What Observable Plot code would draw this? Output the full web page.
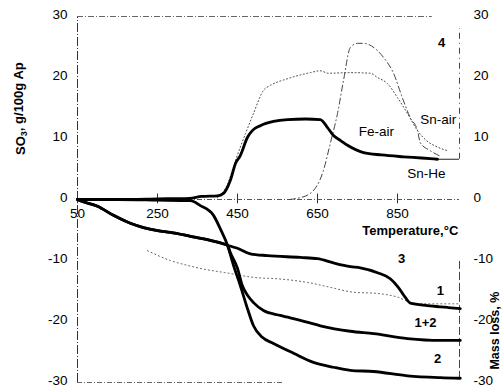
<!DOCTYPE html>
<html><head><meta charset="utf-8">
<script src="https://cdn.jsdelivr.net/npm/d3@7"></script>
<script src="https://cdn.jsdelivr.net/npm/@observablehq/plot@0.6"></script>
<style>body{margin:0;background:#fff}#chart svg{display:block}</style>
</head><body><div id="chart"></div>
<script>
// ---- data (temperature °C, value) ----
const xTicks = [50, 250, 450, 650, 850];
const yTicksLeft = [30, 20, 10, 0, -10, -20, -30];
const yTicksRight = [30, 20, 10, 0, -10, -20, -30];

// SO3 release, g/100g Ap
const snHeT = [50, 150, 250, 330, 360, 400, 415, 432, 445, 457, 475, 487, 507, 540, 575, 620, 657, 675, 690, 707, 725, 765, 810, 865, 910, 950];
const snHeV = [0, 0, 0.1, 0.2, 0.5, 0.6, 1.0, 3.1, 5.9, 7.2, 10.2, 11.3, 12.1, 12.8, 13.1, 13.2, 13.1, 11.8, 10.5, 9.7, 8.9, 7.7, 7.3, 7.0, 6.8, 6.6];
const feAirT = [400, 425, 445, 470, 490, 515, 532, 575, 632, 657, 677, 730, 782, 800, 825, 850, 875, 900, 920, 950, 975];
const feAirV = [0.3, 2.5, 6.4, 10.8, 14.1, 17.9, 18.7, 19.8, 20.8, 21.1, 20.7, 20.8, 20.7, 20.0, 19.0, 16.7, 14.1, 11.3, 9.8, 8.6, 8.0];
const snAirT = [580, 600, 632, 665, 682, 700, 715, 732, 750, 765, 800, 815, 840, 862, 882, 900, 907, 932, 960];
const snAirV = [0, 0.2, 1, 4.8, 9.2, 14.1, 19.5, 24.9, 25.6, 25.6, 24.4, 23.3, 20.7, 16.7, 13.4, 11.3, 9.3, 8.0, 7.0];

// Mass loss, %
const c3T = [50, 57, 100, 140, 182, 215, 250, 282, 330, 382, 400, 425, 450, 482, 525, 607, 650, 690, 732, 757, 800, 832, 852, 870, 882, 925, 975, 1007];
const c3V = [0, -0.2, -1.1, -2.6, -3.9, -4.6, -5.1, -5.4, -6.0, -6.7, -7.0, -7.5, -8.0, -8.9, -9.2, -9.5, -9.7, -10.4, -11.0, -11.2, -12.0, -13.0, -14.4, -16.1, -17.0, -17.4, -17.7, -17.9];
const c12T = [50, 57, 100, 140, 182, 215, 250, 282, 330, 382, 400, 425, 432, 450, 462, 475, 490, 515, 557, 607, 657, 732, 790, 875, 957, 1007];
const c12V = [0, -0.2, -1.1, -2.6, -3.9, -4.6, -5.1, -5.4, -6.0, -6.7, -7.0, -7.5, -8.7, -11.3, -14.1, -15.7, -16.9, -18.2, -19.0, -19.8, -20.7, -21.6, -22.0, -22.8, -23.1, -23.1];
const c2T = [50, 150, 250, 332, 357, 390, 407, 425, 440, 457, 475, 490, 512, 540, 590, 640, 690, 732, 790, 875, 957, 1007];
const c2V = [0, 0, -0.1, -0.2, -1.0, -2.6, -4.8, -7.5, -10.8, -14.1, -17.9, -20.7, -22.6, -23.6, -25.2, -26.7, -27.5, -28.0, -28.2, -28.9, -29.2, -29.3];
const dotT = [225, 282, 325, 357, 420, 495, 550, 625, 682, 740, 800, 850, 890, 940, 1005];
const dotV = [-8.4, -10.0, -10.8, -11.3, -12.0, -12.8, -13.0, -13.6, -14.4, -15.2, -15.4, -16.0, -17.0, -17.1, -17.1];

// annotations
const curveLabels = [
  {t: "Fe-air", x: 797, y: 11.1, bold: false},
  {t: "Sn-air", x: 952, y: 13.1, bold: false},
  {t: "Sn-He", x: 922, y: 4.3, bold: false},
  {t: "4", x: 960, y: 25.7, bold: true},
  {t: "3", x: 860, y: -9.8, bold: true},
  {t: "1", x: 957, y: -14.9, bold: true},
  {t: "1+2", x: 920, y: -20.2, bold: true},
  {t: "2", x: 950, y: -26.1, bold: true}
];

const pts = (T, V) => d3.zip(T, V).map(([x, y]) => ({x, y}));
const thick = {x: "x", y: "y", stroke: "#000", strokeWidth: 2.8, curve: "monotone-x", strokeLinejoin: "round"};

const chart = Plot.plot({
  width: 503, height: 388,
  marginLeft: 77, marginRight: 41, marginTop: 16, marginBottom: 6,
  x: {domain: [50, 850], range: [77, 397], axis: null},
  y: {domain: [-30, 30], range: [382, 16], axis: null},
  style: {fontFamily: "'Liberation Sans', Arial, sans-serif", fontSize: "13.5px", background: "#fff", color: "#000"},
  marks: [
    // frame pieces
    Plot.ruleX([50], {y1: -30, y2: 30, stroke: "#333", strokeWidth: 1, strokeDasharray: "9,2,1,2"}),
    Plot.ruleY([30], {x1: 50, x2: 937, stroke: "#666", strokeWidth: 1, strokeDasharray: "6,2,1,2"}),
    Plot.ruleY([-30], {x1: 50, x2: 565, stroke: "#666", strokeWidth: 1, strokeDasharray: "5,2,1,2"}),
    Plot.ruleX([1005], {y1: -29.5, y2: -10, stroke: "#444", strokeWidth: 1, strokeDasharray: "8,3"}),
    Plot.ruleX([1005], {y1: 6.6, y2: 28, stroke: "#444", strokeWidth: 1, strokeDasharray: "6,4,1,4"}),
    Plot.ruleY([6.6], {x1: 950, x2: 1005, stroke: "#222", strokeWidth: 1}),
    Plot.ruleY([0], {x1: 50, x2: 1005, stroke: "#555", strokeWidth: 1, strokeDasharray: "5,2,1,2"}),
    Plot.ruleX(xTicks, {x: d => d, y1: -0.7, y2: 0.9, stroke: "#333", strokeWidth: 1}),
    // axes
    Plot.axisY(yTicksLeft, {anchor: "left", label: null, tickSize: 0, tickPadding: 10, dy: -1.5, tickFormat: d => String(d), fontSize: 13.5, fill: "#000"}),
    Plot.axisY(yTicksRight, {anchor: "right", label: null, tickSize: 0, tickPadding: 11, dy: -1.5, tickFormat: d => String(d), fontSize: 13.5, fill: "#000"}),
    Plot.text(xTicks, {x: d => d, y: 0, dy: 14, text: d => String(d), fontSize: 13.5, fill: "#000"}),
    // thin curves
    Plot.line(pts(feAirT, feAirV), {x: "x", y: "y", stroke: "#444", strokeWidth: 1, strokeDasharray: "1,2.5", curve: "monotone-x"}),
    Plot.line(pts(snAirT, snAirV), {x: "x", y: "y", stroke: "#444", strokeWidth: 1, strokeDasharray: "6,3,1,3", curve: "monotone-x"}),
    Plot.line(pts(dotT, dotV), {x: "x", y: "y", stroke: "#555", strokeWidth: 1, strokeDasharray: "1,3", curve: "monotone-x"}),
    // thick curves
    Plot.line(pts(snHeT, snHeV), thick),
    Plot.line(pts(c3T, c3V), thick),
    Plot.line(pts(c12T, c12V), thick),
    Plot.line(pts(c2T, c2V), thick),
    // labels
    Plot.text(curveLabels.filter(d => !d.bold), {x: "x", y: "y", text: "t", fontSize: 13.5, fill: "#000"}),
    Plot.text(curveLabels.filter(d => d.bold), {x: "x", y: "y", text: "t", fontSize: 13, fontWeight: "bold", fill: "#000"}),
    Plot.text(["Temperature,°C"], {x: 882, y: -5.1, text: d => d, fontSize: 13, fontWeight: "bold", fill: "#000"}),
    Plot.text(["SO3, g/100g Ap"], {frameAnchor: "left", dx: -57, y: 14.9, text: d => d, rotate: -90, textAnchor: "middle", fontSize: 13, fontWeight: "bold", fill: "#000", className: "ytitle"}),
    Plot.text(["Mass loss, %"], {frameAnchor: "right", dx: 32, y: -21.5, text: d => d, rotate: -90, textAnchor: "middle", fontSize: 12.5, fontWeight: "bold", fill: "#000"})
  ]
});
document.getElementById("chart").appendChild(chart);
// subscript 3 in SO3
d3.select(chart).selectAll("g.ytitle text").each(function() {
  const t = d3.select(this);
  t.text(null);
  t.append("tspan").text("SO");
  t.append("tspan").attr("dy", "0.3em").attr("font-size", "9px").text("3");
  t.append("tspan").attr("dy", "-0.3em").text(", g/100g Ap");
});
</script>
</body></html>
